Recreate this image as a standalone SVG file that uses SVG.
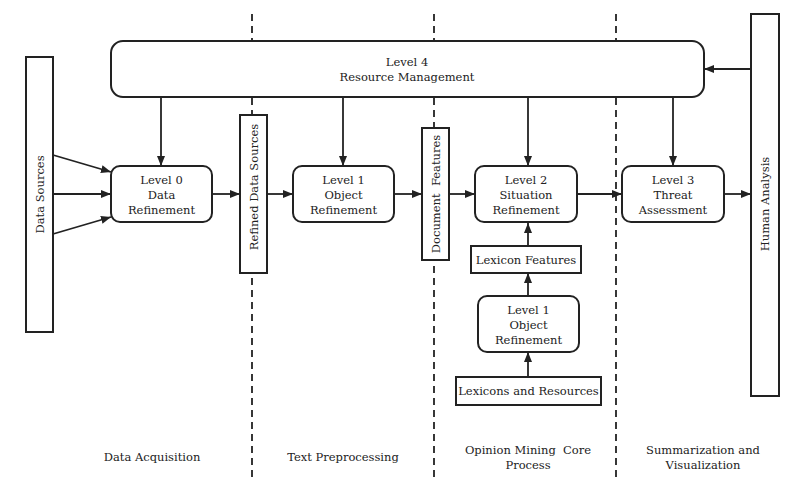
<svg xmlns="http://www.w3.org/2000/svg" width="801" height="478" viewBox="0 0 801 478">
<defs>
<style>
.box{fill:#fff;stroke:#222;stroke-width:2}
.ln{fill:none;stroke:#222;stroke-width:1.8}
.dash{fill:none;stroke:#222;stroke-width:1.8;stroke-dasharray:7 5}
text{font-family:"DejaVu Serif","Liberation Serif",serif;font-size:11.5px;fill:#222;text-anchor:middle}
</style>
<marker id="ah" viewBox="0 0 10 10" refX="10" refY="5" markerWidth="10" markerHeight="10" markerUnits="userSpaceOnUse" orient="auto">
<path d="M0,1 L10,5 L0,9 Z" fill="#222"/>
</marker>
</defs>
<g id="lanes">
<line class="dash" x1="252" y1="14" x2="252" y2="478"/>
<line class="dash" x1="434" y1="14" x2="434" y2="478"/>
<line class="dash" x1="616" y1="14" x2="616" y2="478"/>
</g>
<g id="connectors">
<line class="ln" x1="161" y1="97" x2="161" y2="166" marker-end="url(#ah)"/>
<line class="ln" x1="343" y1="97" x2="343" y2="166" marker-end="url(#ah)"/>
<line class="ln" x1="528" y1="97" x2="528" y2="166" marker-end="url(#ah)"/>
<line class="ln" x1="673" y1="97" x2="673" y2="166" marker-end="url(#ah)"/>
<line class="ln" x1="751" y1="69" x2="704" y2="69" marker-end="url(#ah)"/>
<line class="ln" x1="53" y1="155" x2="111" y2="172" marker-end="url(#ah)"/>
<line class="ln" x1="53" y1="194" x2="111" y2="194" marker-end="url(#ah)"/>
<line class="ln" x1="53" y1="234" x2="111" y2="217" marker-end="url(#ah)"/>
<line class="ln" x1="212" y1="194" x2="240" y2="194" marker-end="url(#ah)"/>
<line class="ln" x1="267" y1="194" x2="293" y2="194" marker-end="url(#ah)"/>
<line class="ln" x1="394" y1="194" x2="422" y2="194" marker-end="url(#ah)"/>
<line class="ln" x1="449" y1="194" x2="475" y2="194" marker-end="url(#ah)"/>
<line class="ln" x1="577" y1="194" x2="622" y2="194" marker-end="url(#ah)"/>
<line class="ln" x1="724" y1="194" x2="751" y2="194" marker-end="url(#ah)"/>
<line class="ln" x1="528" y1="246" x2="528" y2="223" marker-end="url(#ah)"/>
<line class="ln" x1="528" y1="296" x2="528" y2="273" marker-end="url(#ah)"/>
<line class="ln" x1="528" y1="377" x2="528" y2="352" marker-end="url(#ah)"/>
</g>
<g id="level4">
<rect class="box" x="111" y="41" width="593" height="56" rx="12"/>
<text x="407" y="66">Level 4</text>
<text x="407" y="81">Resource Management</text>
</g>
<g id="datasources">
<rect class="box" x="26" y="57" width="27" height="275"/>
<text transform="translate(44,194.5) rotate(-90)">Data Sources</text>
</g>
<g id="level0">
<rect class="box" x="111" y="166" width="101" height="56" rx="9"/>
<text x="161.5" y="184">Level 0</text>
<text x="161.5" y="199">Data</text>
<text x="161.5" y="214">Refinement</text>
</g>
<g id="refined">
<rect class="box" x="240" y="115" width="27" height="158"/>
<text transform="translate(257.5,187) rotate(-90)">Refined Data Sources</text>
</g>
<g id="level1">
<rect class="box" x="293" y="166" width="101" height="56" rx="9"/>
<text x="343.5" y="184">Level 1</text>
<text x="343.5" y="199">Object</text>
<text x="343.5" y="214">Refinement</text>
</g>
<g id="docfeatures">
<rect class="box" x="422" y="128" width="27" height="132"/>
<text transform="translate(439.5,194) rotate(-90)" xml:space="preserve">Document  Features</text>
</g>
<g id="level2">
<rect class="box" x="475" y="166" width="102" height="56" rx="9"/>
<text x="526" y="184">Level 2</text>
<text x="526" y="199">Situation</text>
<text x="526" y="214">Refinement</text>
</g>
<g id="lexfeatures">
<rect class="box" x="471" y="246" width="110" height="27"/>
<text x="526" y="263.5">Lexicon Features</text>
</g>
<g id="level1b">
<rect class="box" x="478" y="296" width="101" height="56" rx="9"/>
<text x="528.5" y="314">Level 1</text>
<text x="528.5" y="329">Object</text>
<text x="528.5" y="344">Refinement</text>
</g>
<g id="lexicons">
<rect class="box" x="456" y="377" width="145" height="28"/>
<text x="528.5" y="395">Lexicons and Resources</text>
</g>
<g id="level3">
<rect class="box" x="622" y="166" width="102" height="56" rx="9"/>
<text x="673" y="184">Level 3</text>
<text x="673" y="199">Threat</text>
<text x="673" y="214">Assessment</text>
</g>
<g id="human">
<rect class="box" x="751" y="14" width="28" height="382"/>
<text transform="translate(769,204) rotate(-90)">Human Analysis</text>
</g>
<g id="labels">
<text x="152" y="461">Data Acquisition</text>
<text x="343" y="461">Text Preprocessing</text>
<text x="528" y="454" xml:space="preserve">Opinion Mining  Core</text>
<text x="528" y="469">Process</text>
<text x="703" y="454">Summarization and</text>
<text x="703" y="469">Visualization</text>
</g>
</svg>
